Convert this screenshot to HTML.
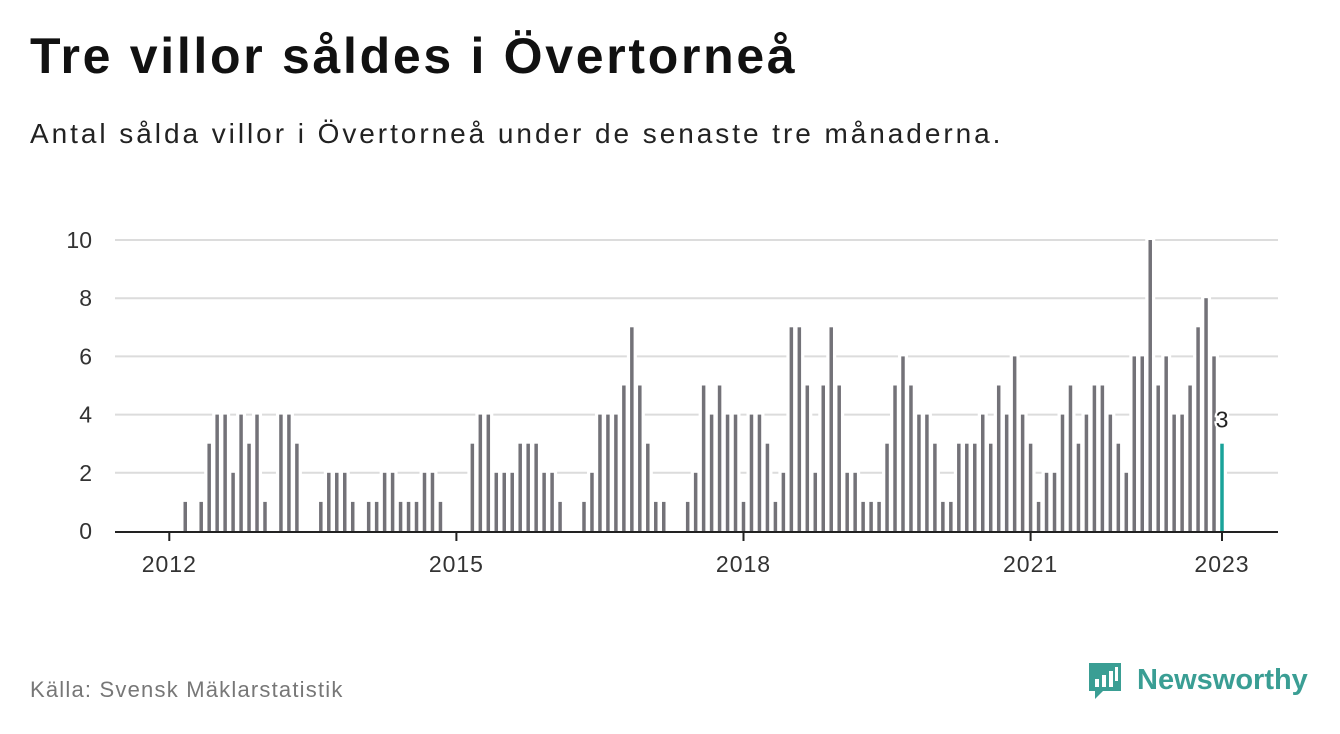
<!DOCTYPE html>
<html><head><meta charset="utf-8"><style>
body{margin:0;background:#fff;font-family:"Liberation Sans",sans-serif;}
#wrap{position:relative;width:1340px;height:734px;overflow:hidden;}
h1{position:absolute;left:30px;top:27px;margin:0;font-size:50px;font-weight:bold;color:#111;letter-spacing:2.7px;}
.sub{position:absolute;left:30px;top:118px;font-size:28px;color:#222;letter-spacing:2.95px;}
.src{position:absolute;left:30px;top:677px;font-size:22px;color:#777;letter-spacing:1.2px;}
</style></head><body>
<div id="wrap">
<h1>Tre villor såldes i Övertorneå</h1>
<div class="sub">Antal sålda villor i Övertorneå under de senaste tre månaderna.</div>
<svg id="chart" width="1340" height="734" style="position:absolute;left:0;top:0"></svg>
<div class="src">Källa: Svensk Mäklarstatistik</div>
<svg width="230" height="60" style="position:absolute;left:1085px;top:655px">
<path d="M4 8 h32 v28 h-18 l-8 8 v-8 h-6 z" fill="#3a9e94"/>
<rect x="10" y="24" width="4" height="8" fill="#fff"/><rect x="17" y="20" width="4" height="12" fill="#fff"/><rect x="24" y="16" width="4" height="16" fill="#fff"/><rect x="30" y="12" width="3" height="14" fill="#fff"/>
<text x="52" y="34" font-family="Liberation Sans, sans-serif" font-size="29" font-weight="bold" fill="#3a9e94">Newsworthy</text>
</svg>
</div>
<script>
const startYear = 2012;
const values = [0,0,1,0,1,3,4,4,2,4,3,4,
1,0,4,4,3,0,0,1,2,2,2,1,
0,1,1,2,2,1,1,1,2,2,1,0,
0,0,3,4,4,2,2,2,3,3,3,2,
2,1,0,0,1,2,4,4,4,5,7,5,
3,1,1,0,0,1,2,5,4,5,4,4,
1,4,4,3,1,2,7,7,5,2,5,7,
5,2,2,1,1,1,3,5,6,5,4,4,
3,1,1,3,3,3,4,3,5,4,6,4,
3,1,2,2,4,5,3,4,5,5,4,3,
2,6,6,10,5,6,4,4,5,7,8,6,3];
const yTicks = [0,2,4,6,8,10];
const xTickYears = [2012,2015,2018,2021,2023];
const svg = document.getElementById('chart');
const NS = 'http://www.w3.org/2000/svg';
const x0 = 169.3, mw = 7.975, yb = 531, yu = 29.1;
const xs = i => x0 + i*mw;
const ys = v => yb - v*yu;
function mk(t, a){const e=document.createElementNS(NS,t);for(const k in a)e.setAttribute(k,a[k]);svg.appendChild(e);return e;}
yTicks.forEach(v=>{
  if(v>0){const g=mk('line',{x1:115,x2:1278,y1:ys(v),y2:ys(v),stroke:'#dcdcdc','stroke-width':2});
  
  }
  const t=mk('text',{x:92,y:ys(v)+8,'text-anchor':'end','font-size':23,fill:'#333','font-family':'Liberation Sans, sans-serif'});
  t.textContent=v;
  
  
});
values.forEach((v,i)=>{
  if(v<=0) return;
  const h=mk('rect',{x:xs(i)-5,y:ys(v)-4,width:10,height:v*yu+4,fill:'#fff'});
  
  
});
values.forEach((v,i)=>{
  if(v<=0) return;
  const last = i===values.length-1;
  const r=mk('rect',{x:xs(i)-1.75,y:ys(v),width:3.5,height:v*yu,fill:last?'#1aa39a':'#737278'});
  
  
});
const lv = values[values.length-1];
const lt=mk('text',{x:xs(values.length-1),y:ys(lv)-16,'text-anchor':'middle','font-size':23,fill:'#222',stroke:'#fff','stroke-width':4,'paint-order':'stroke','font-family':'Liberation Sans, sans-serif'});
lt.textContent=lv;


const ax=mk('line',{x1:115,x2:1278,y1:yb+1,y2:yb+1,stroke:'#222','stroke-width':2});


xTickYears.forEach(yr=>{
  const x=xs((yr-startYear)*12);
  const tk=mk('line',{x1:x,x2:x,y1:yb+1,y2:yb+10,stroke:'#222','stroke-width':2});
  
  
  const t=mk('text',{x:x,y:yb+41,'text-anchor':'middle','font-size':23,fill:'#333','font-family':'Liberation Sans, sans-serif','letter-spacing':1});
  t.textContent=yr;
  
  
});
</script>
</body></html>
